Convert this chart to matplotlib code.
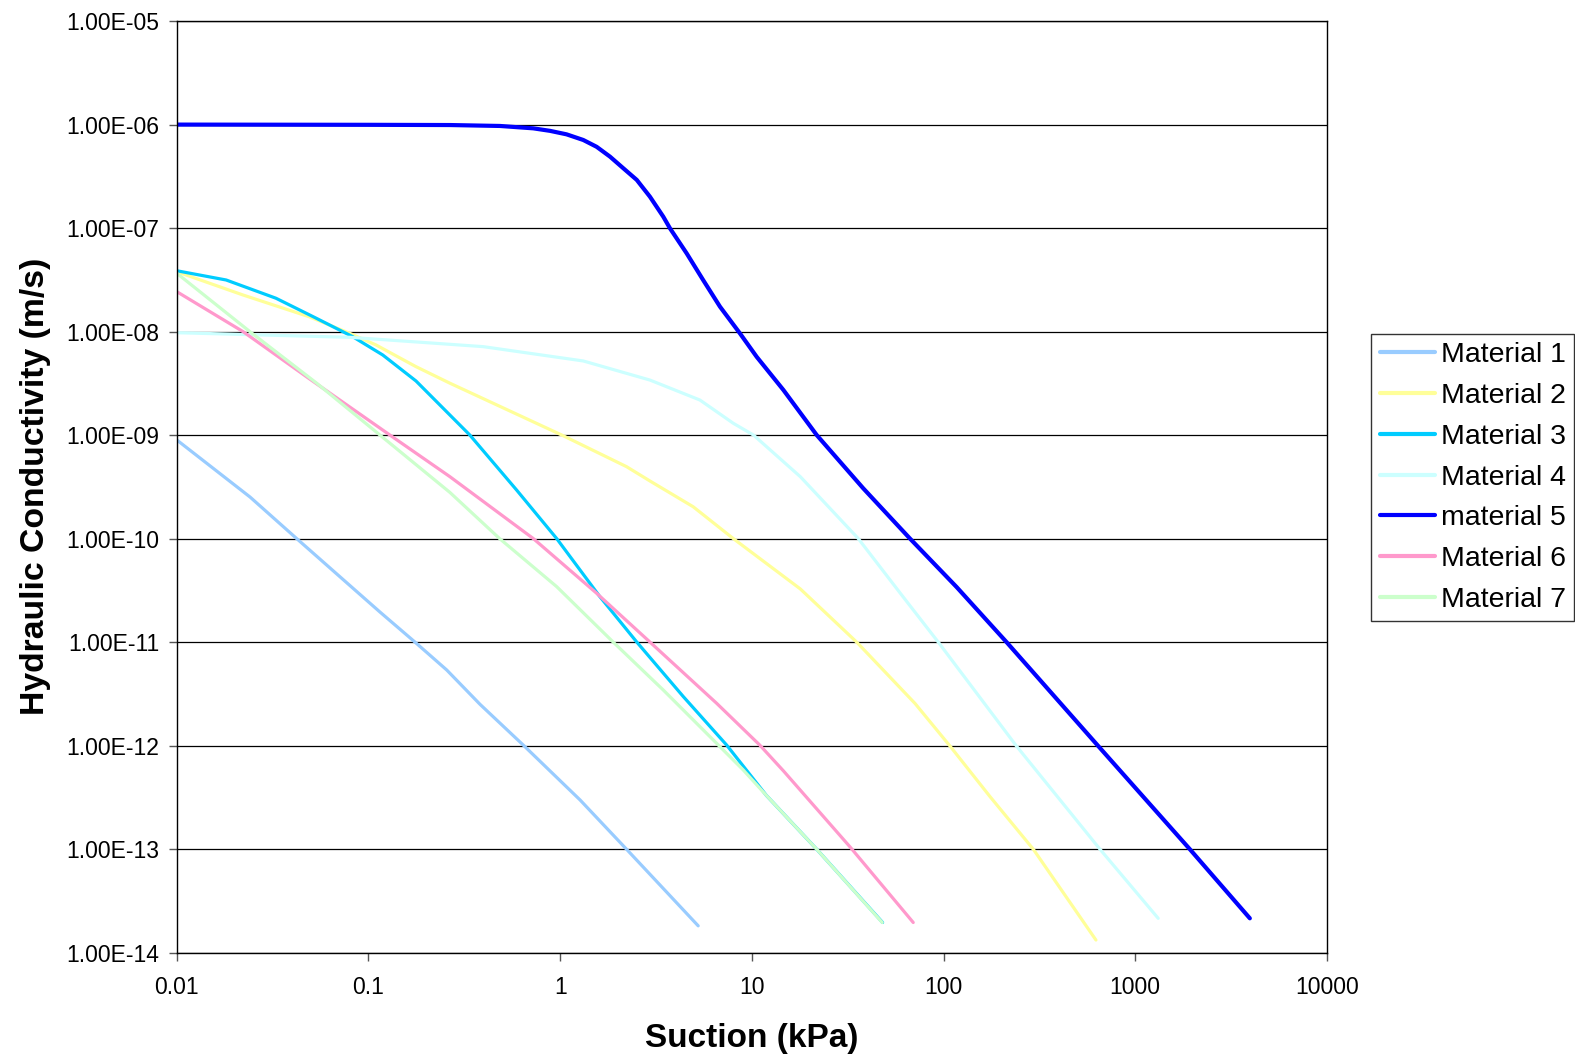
import matplotlib
matplotlib.use("Agg")
import matplotlib.pyplot as plt
from matplotlib.ticker import FixedLocator, FuncFormatter, NullLocator

plt.rcParams['font.family'] = ['Liberation Sans', 'DejaVu Sans']

# Suction (kPa) and hydraulic conductivity (m/s)
suction_1 = [0.01, 0.0241, 0.0422, 0.0769, 0.1148, 0.1747, 0.256, 0.382, 0.642, 1.27, 2.22, 5.25]
k_1 = [8.97e-10, 2.52e-10, 1.0e-10, 3.75e-11, 1.95e-11, 1.0e-11, 5.37e-12, 2.5e-12, 1.01e-12,
       2.98e-13, 9.95e-14, 1.81e-14]

suction_2 = [0.01, 0.0221, 0.0491, 0.080, 0.1094, 0.177, 0.266, 1.02, 2.22, 2.94, 4.94, 8.0,
             17.9, 35.2, 71.0, 108, 175, 294, 624]
k_2 = [3.79e-8, 2.26e-8, 1.39e-8, 9.6e-9, 7.43e-9, 4.58e-9, 3.17e-9, 1.0e-9, 4.95e-10, 3.6e-10,
       2.03e-10, 1.0e-10, 3.26e-11, 1.0e-11, 2.55e-12, 9.9e-13, 3.2e-13, 9.95e-14, 1.32e-14]

suction_3 = [0.01, 0.0181, 0.0329, 0.0532, 0.0827, 0.1187, 0.177, 0.338, 0.593, 0.959, 1.61,
             2.51, 4.39, 7.39, 11.9, 21.8, 48.1]
k_3 = [3.87e-8, 3.15e-8, 2.1e-8, 1.35e-8, 8.93e-9, 5.94e-9, 3.33e-9, 1.0e-9, 2.94e-10, 1.0e-10,
       2.75e-11, 1.0e-11, 2.97e-12, 1.01e-12, 3.3e-13, 9.95e-14, 1.95e-14]

suction_4 = [0.01, 0.080, 0.397, 1.32, 2.94, 5.36, 8.0, 10.2, 17.9, 35.9, 59.6, 93.8, 240, 655, 1318]
k_4 = [9.75e-9, 8.8e-9, 7.15e-9, 5.2e-9, 3.4e-9, 2.18e-9, 1.3e-9, 1.0e-9, 3.96e-10, 1.0e-10,
       2.95e-11, 1.0e-11, 9.9e-13, 9.95e-14, 2.14e-14]

suction_5 = [0.01, 0.1, 0.266, 0.485, 0.724, 0.885, 1.08, 1.32, 1.55, 1.82, 2.13, 2.51, 2.94,
             3.45, 3.74, 4.57, 5.57, 6.82, 8.67, 10.6, 14.6, 21.8, 38.1, 66.8, 117, 213, 641,
             1928, 3963]
k_5 = [1.0e-6, 9.95e-7, 9.9e-7, 9.7e-7, 9.2e-7, 8.7e-7, 8.05e-7, 7.1e-7, 6.1e-7, 4.9e-7, 3.8e-7,
       2.92e-7, 2.01e-7, 1.29e-7, 9.95e-8, 5.7e-8, 3.15e-8, 1.74e-8, 9.6e-9, 5.7e-9, 2.73e-9,
       1.0e-9, 3.06e-10, 1.0e-10, 3.4e-11, 1.0e-11, 9.9e-13, 9.95e-14, 2.14e-14]

suction_6 = [0.01, 0.0222, 0.0475, 0.1294, 0.266, 0.724, 1.55, 2.94, 6.55, 11.0, 14.6, 32.5, 69.5]
k_6 = [2.43e-8, 9.97e-9, 3.66e-9, 1.0e-9, 3.96e-10, 1.0e-10, 2.96e-11, 1.0e-11, 2.56e-12,
       1.01e-12, 5.7e-13, 1.05e-13, 1.95e-14]

suction_7 = [0.01, 0.0241, 0.0537, 0.1148, 0.266, 0.483, 0.959, 1.89, 3.45, 6.04, 9.02, 11.9, 21.8, 47.9]
k_7 = [3.66e-8, 9.97e-9, 3.17e-9, 1.0e-9, 2.79e-10, 1.0e-10, 3.43e-11, 1.0e-11, 3.44e-12,
       1.22e-12, 5.8e-13, 3.3e-13, 9.95e-14, 1.95e-14]

labels = ["Material 1", "Material 2", "Material 3", "Material 4", "material 5", "Material 6", "Material 7"]
colors = ["#99CCFF", "#FFFF99", "#00CCFF", "#CCFFFF", "#0000FF", "#FF99CC", "#CCFFCC"]
widths = [2.3, 2.3, 2.3, 2.3, 3.0, 2.3, 2.3]

xs = [suction_1, suction_2, suction_3, suction_4, suction_5, suction_6, suction_7]
ys = [k_1, k_2, k_3, k_4, k_5, k_6, k_7]

W, H = 1568, 1051  # measuring grid
fig = plt.figure(figsize=(15.75, 10.56), dpi=100)
ax = fig.add_axes([176 / W, 1 - 948 / H, (1321 - 176) / W, (948 - 21) / H])

for x, y, lab, c, lw in zip(xs, ys, labels, colors, widths):
    ax.plot(x, y, color=c, lw=lw, label=lab, solid_capstyle='round', solid_joinstyle='round')

ax.set_xscale('log')
ax.set_yscale('log')
ax.set_xlim(0.01, 10000)
ax.set_ylim(1e-14, 1e-5)

ax.xaxis.set_major_locator(FixedLocator([0.01, 0.1, 1, 10, 100, 1000, 10000]))
ax.xaxis.set_minor_locator(NullLocator())
ax.xaxis.set_major_formatter(FuncFormatter(lambda v, p: f"{v:g}"))
ax.yaxis.set_major_locator(FixedLocator([10.0 ** e for e in range(-14, -4)]))
ax.yaxis.set_minor_locator(NullLocator())
ax.yaxis.set_major_formatter(FuncFormatter(lambda v, p: f"{v:.2E}"))

ax.tick_params(axis='both', direction='out', length=6, width=1, labelsize=16.5, color='#555555')
ax.tick_params(axis='x', pad=11)
ax.tick_params(axis='y', pad=6.5)
ax.grid(True, axis='y', color='black', lw=0.9)
for s in ax.spines.values():
    s.set_color('black')
    s.set_linewidth(1.0)

ax.set_xlabel("Suction (kPa)", fontsize=24, fontweight='bold', labelpad=17)
ax.set_ylabel("Hydraulic Conductivity (m/s)", fontsize=24.3, fontweight='bold', labelpad=11)

leg = fig.legend(loc='upper left', bbox_to_anchor=(1365 / W, 1 - 332 / H),
                 fontsize=20.5, frameon=True, fancybox=False, edgecolor='black',
                 handlelength=1.95, handletextpad=0.2, labelspacing=0.52, borderpad=0.3,
                 borderaxespad=0)
leg.get_frame().set_linewidth(1.0)
for line in leg.get_lines():
    line.set_linewidth(3)

fig.savefig("out.png", dpi=100)
